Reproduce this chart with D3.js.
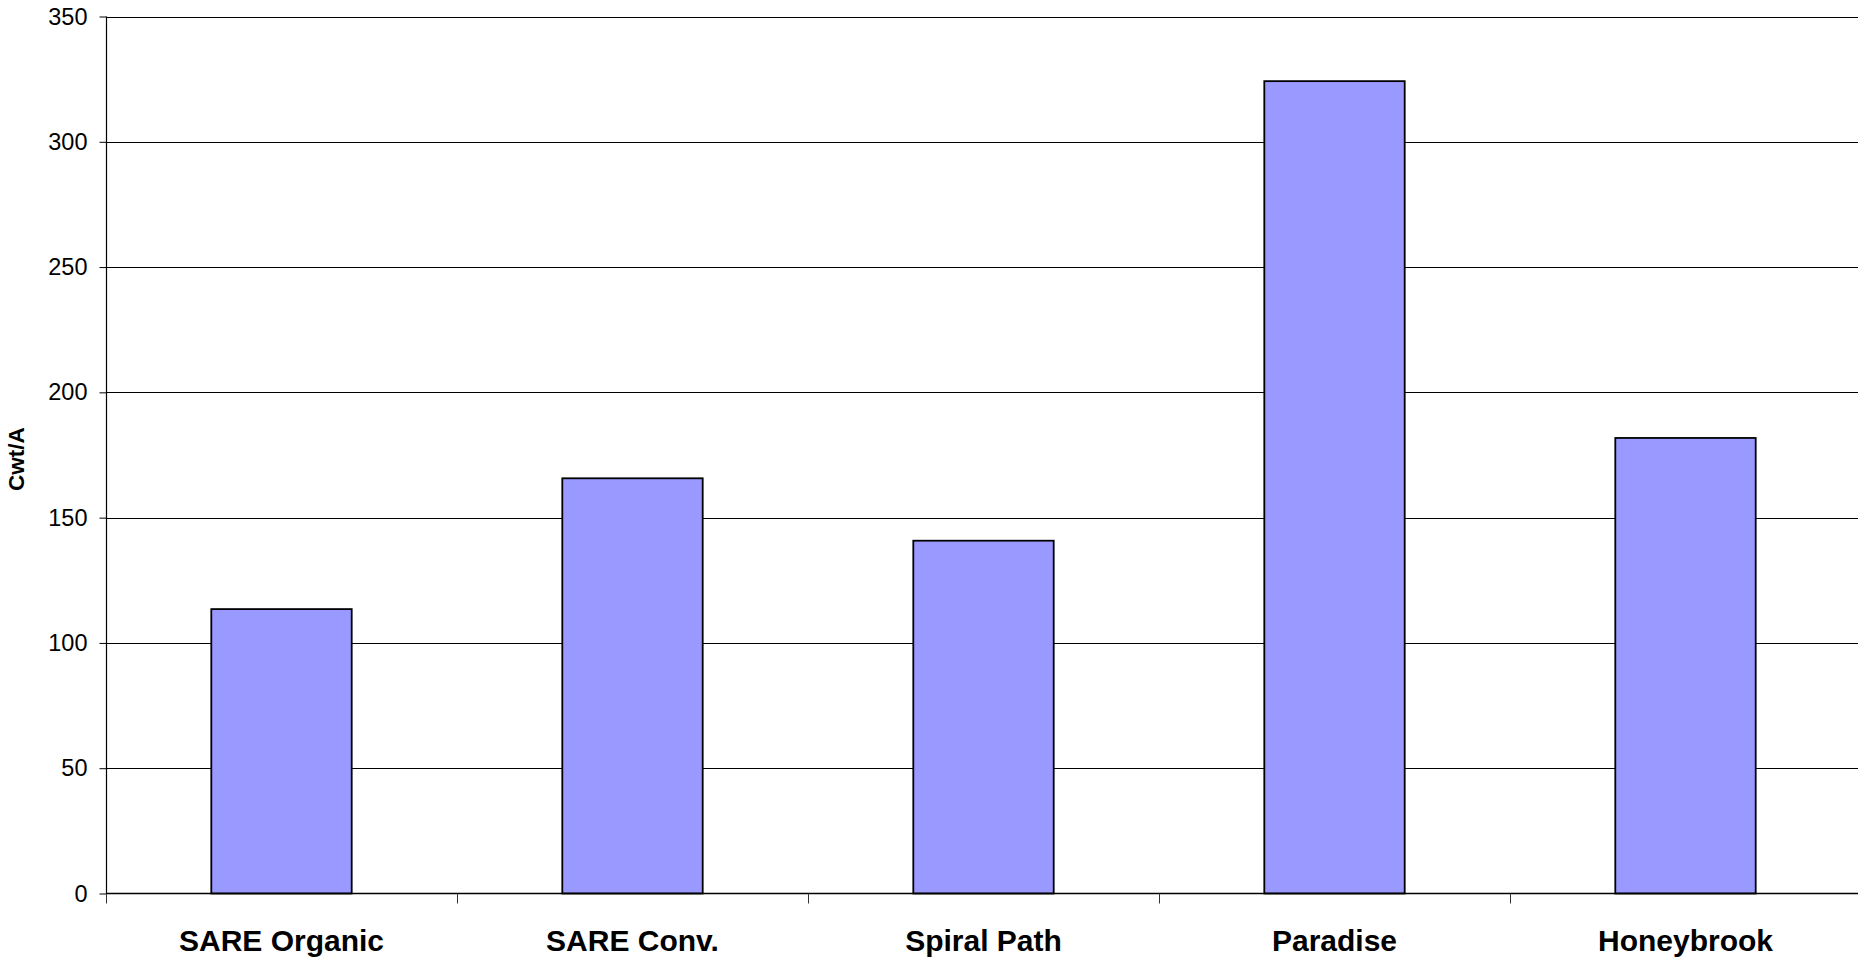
<!DOCTYPE html>
<html>
<head>
<meta charset="utf-8">
<script src="https://cdn.jsdelivr.net/npm/d3@7"></script>
<style>
  html, body { margin: 0; padding: 0; background: #fff; }
  svg { display: block; font-family: Arial, "Liberation Sans", sans-serif; }
</style>
</head>
<body>
<svg id="chart" width="1858" height="963"></svg>
<script>
// Yield by farm, in hundredweight per acre
const categories = ["SARE Organic", "SARE Conv.", "Spiral Path", "Paradise", "Honeybrook"];
const yieldValues = [113.5, 165.7, 140.8, 324.2, 181.8];
const yTicks = [0, 50, 100, 150, 200, 250, 300, 350];
const yLabel = "Cwt/A";

(function drawChart() {
  const W = 1858;
  const plotLeft = 106, plotRight = 1861, plotTop = 16.5, plotBottom = 893.5;

  const svg = d3.select("#chart");

  const x = d3.scaleBand()
    .domain(categories)
    .range([plotLeft, plotRight])
    .paddingInner(0.6)
    .paddingOuter(0.3);

  const y = d3.scaleLinear().domain([0, 350]).range([plotBottom, plotTop]);

  // horizontal gridlines
  svg.append("g")
    .selectAll("line")
    .data(yTicks.filter(t => t > 0))
    .join("line")
    .attr("x1", plotLeft)
    .attr("x2", W)
    .attr("y1", d => Math.round(y(d)) + 0.5)
    .attr("y2", d => Math.round(y(d)) + 0.5)
    .attr("stroke", "#000")
    .attr("stroke-width", 1);

  // bars
  svg.append("g")
    .selectAll("rect")
    .data(categories.map((c, i) => ({ c, v: yieldValues[i] })))
    .join("rect")
    .attr("x", d => x(d.c))
    .attr("y", d => y(d.v))
    .attr("width", x.bandwidth())
    .attr("height", d => y(0) - y(d.v))
    .attr("fill", "#9999FF")
    .attr("stroke", "#000")
    .attr("stroke-width", 1.8);

  // y axis
  const yAxis = d3.axisLeft(y).tickValues(yTicks).tickSize(7).tickPadding(12);
  const gy = svg.append("g")
    .attr("transform", `translate(${plotLeft + 0.5},0)`)
    .call(yAxis);
  gy.select(".domain").attr("stroke", "#000").attr("stroke-width", 1.2)
    .attr("d", `M0,${plotTop}V${plotBottom}`);
  gy.selectAll(".tick line").attr("stroke", "#000");
  gy.selectAll(".tick text")
    .attr("font-size", 23.5)
    .attr("font-family", "Arial, 'Liberation Sans', sans-serif")
    .attr("fill", "#000");

  // x axis baseline and boundary ticks
  const step = x.step();
  const boundaries = d3.range(categories.length + 1).map(i => plotLeft + i * step);
  svg.append("line")
    .attr("x1", plotLeft).attr("x2", W)
    .attr("y1", plotBottom).attr("y2", plotBottom)
    .attr("stroke", "#000").attr("stroke-width", 1.4);
  svg.append("g")
    .selectAll("line")
    .data(boundaries)
    .join("line")
    .attr("x1", d => Math.round(d) + 0.5)
    .attr("x2", d => Math.round(d) + 0.5)
    .attr("y1", plotBottom)
    .attr("y2", plotBottom + 10)
    .attr("stroke", "#333")
    .attr("stroke-width", 1);

  // category labels
  svg.append("g")
    .selectAll("text")
    .data(categories)
    .join("text")
    .attr("x", d => x(d) + x.bandwidth() / 2)
    .attr("y", 951)
    .attr("text-anchor", "middle")
    .attr("font-size", 30)
    .attr("font-weight", "bold")
    .attr("fill", "#000")
    .text(d => d);

  // y axis title
  svg.append("text")
    .attr("transform", "translate(24,459) rotate(-90)")
    .attr("text-anchor", "middle")
    .attr("font-size", 22.5)
    .attr("font-weight", "bold")
    .attr("fill", "#000")
    .text(yLabel);
})();
</script>
</body>
</html>
